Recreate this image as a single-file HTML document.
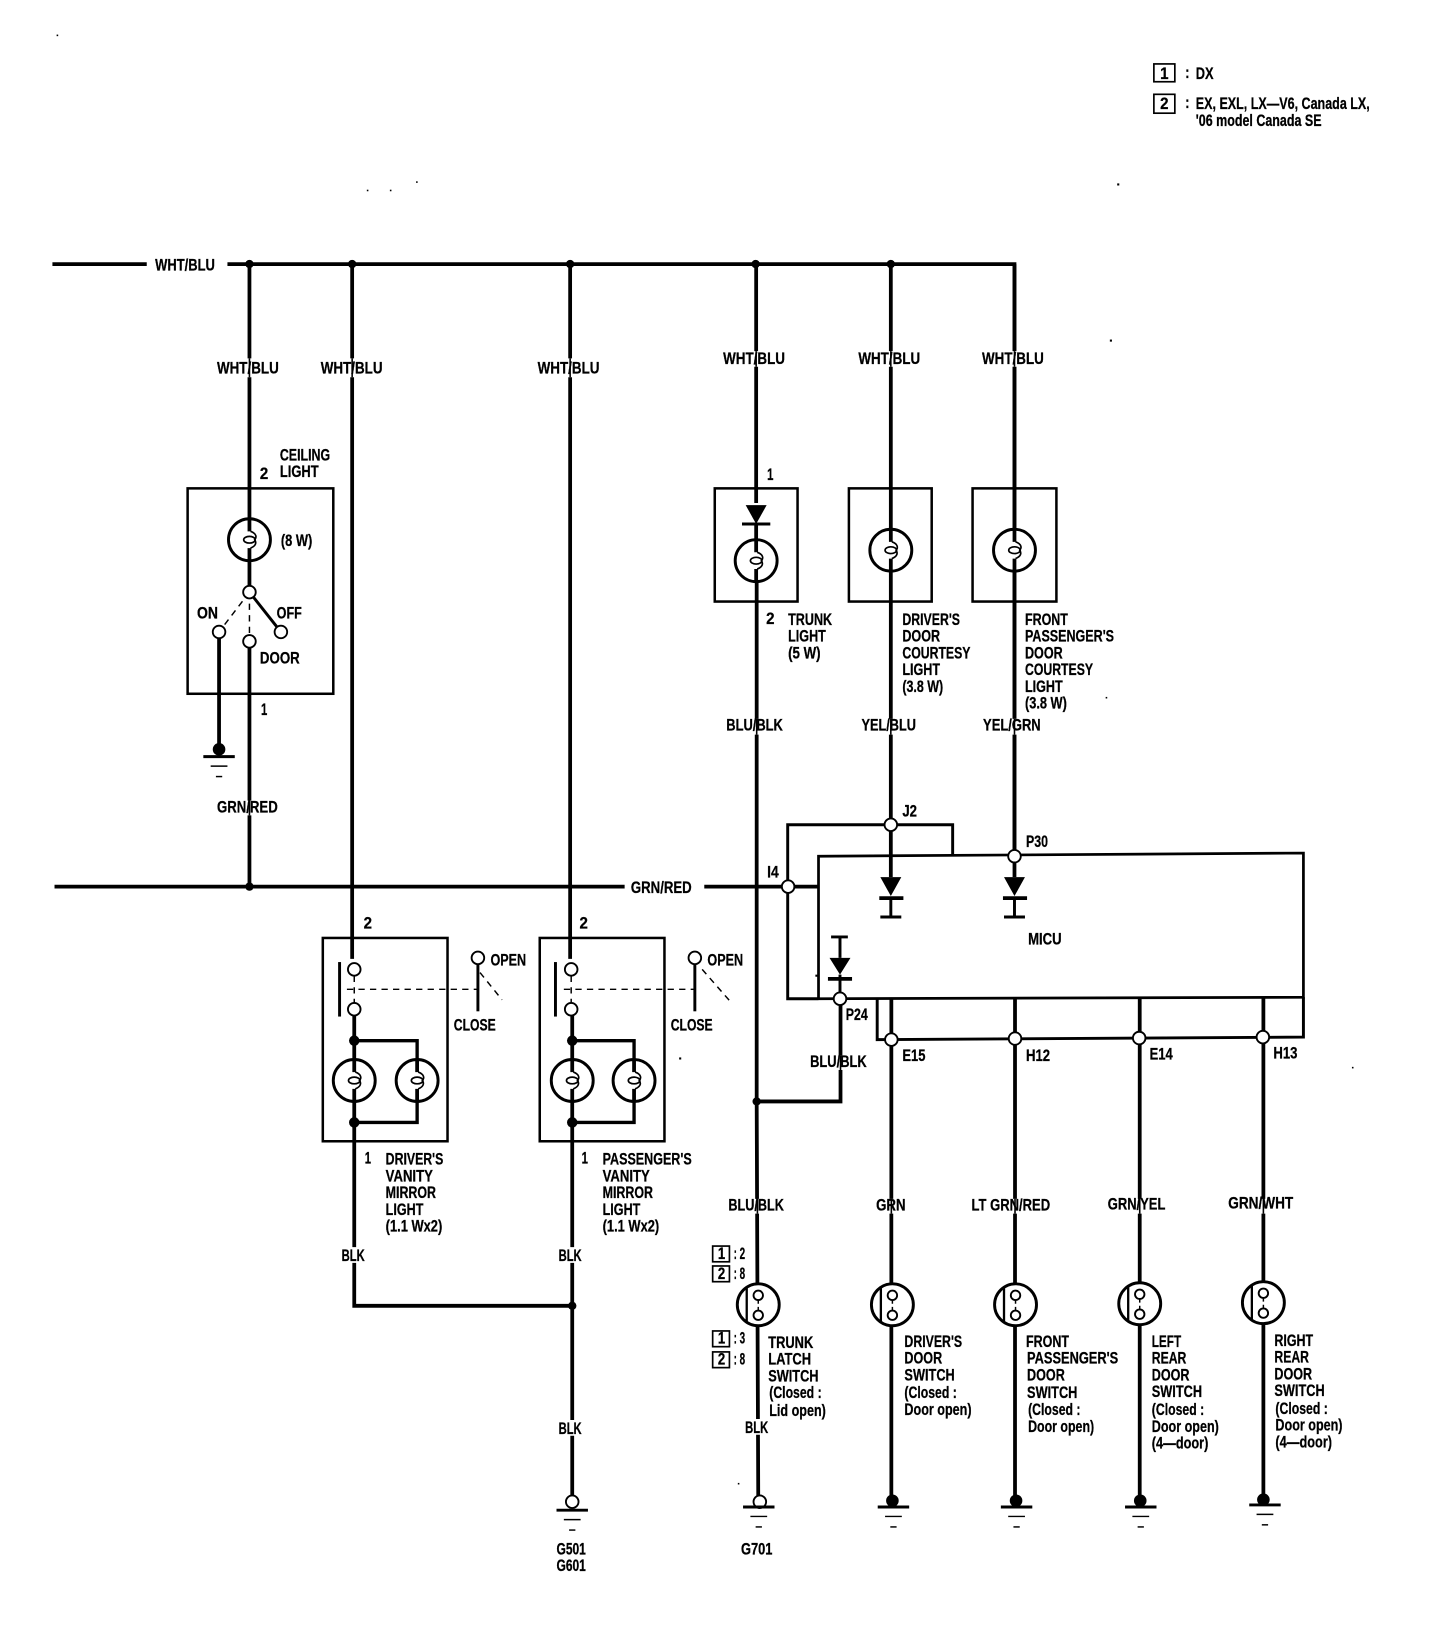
<!DOCTYPE html>
<html>
<head>
<meta charset="utf-8">
<style>
html,body{margin:0;padding:0;background:#fff}
svg{display:block}
text{font-family:"Liberation Sans",sans-serif;font-weight:bold;font-size:15.5px;fill:#000;stroke:#000;stroke-width:.25}
.w{fill:none;stroke:#000;stroke-width:3.6}
.m{fill:none;stroke:#000;stroke-width:2.8}
.t{fill:none;stroke:#000;stroke-width:2.4}
.d{fill:none;stroke:#000;stroke-width:1.4;stroke-dasharray:6 5}
.o{fill:#fff;stroke:#000;stroke-width:1.8}
.x{fill:none;stroke:#fff;stroke-width:6}
.n{fill:none;stroke:#000;stroke-width:1.5}
</style>
</head>
<body>
<svg xmlns="http://www.w3.org/2000/svg" width="1440" height="1642" viewBox="0 0 1374 1566.8">
<defs>
<g id="b"><circle r="20" fill="#fff" stroke="#000" stroke-width="2.8"/><path d="M0-20V-8M0 8V20" stroke="#000" stroke-width="3.6"/><ellipse rx="5.5" ry="3.2" fill="none" stroke="#000" stroke-width="1.6"/><path d="M1-8C7-6 7-2 5 0 7 3 6 6 1 8" fill="none" stroke="#000" stroke-width="1.6"/></g>
<g id="s"><circle r="20" fill="#fff" stroke="#000" stroke-width="2.8"/><path d="M-11-17V16" stroke="#000" stroke-width="2.2"/><path d="M0-5V5" stroke="#000" stroke-width="1.4" stroke-dasharray="4 3"/><circle cy="-9" r="4.5" class="o"/><circle cy="10" r="4.5" class="o"/></g>
<g id="g"><path d="M-15 5H15" stroke="#000" stroke-width="2.8"/><path d="M-8 14H8" stroke="#000" stroke-width="1.4"/><path d="M-3 24H3" stroke="#000" stroke-width="1.4"/></g>
</defs>

<!-- buses -->
<path class="w" d="M50 252H140M217 252H968V816M52 846H596M672 846H781"/>
<path class="w" d="M238 252V510M238 525V559M238 618V846M336 252V915M544 252V915"/>
<path class="w" d="M721.5 252V480M721.5 500V515M722 555V1051L723.5 1430M850 252V505M850 545V837M968 252V505M968 545V837"/>
<g fill="#000"><circle cx="238" cy="252" r="4"/><circle cx="336" cy="252" r="4"/><circle cx="544" cy="252" r="4"/><circle cx="721" cy="252" r="4"/><circle cx="850" cy="252" r="4"/><circle cx="238" cy="846" r="4"/><circle cx="722" cy="1051" r="4"/><circle cx="546" cy="1246" r="4"/></g>

<!-- ceiling light -->
<rect class="t" x="179" y="466" width="139" height="196"/>
<use href="#b" x="238" y="515"/>
<path class="m" d="M238 565L268 603"/>
<path class="d" d="M238 565L209 603M238 565V612"/>
<path class="w" d="M209 609V715"/>
<circle class="o" cx="238" cy="565" r="6"/><circle class="o" cx="209" cy="603" r="6"/><circle class="o" cx="268" cy="603" r="6"/><circle class="o" cx="238" cy="612" r="6"/>
<circle cx="209" cy="715" r="6"/>
<use href="#g" x="209" y="717"/>

<!-- vanity 1 -->
<rect class="t" x="308" y="895" width="119" height="194"/>
<path class="m" d="M324 918V970"/>
<path class="d" d="M331 944H455M338 931V957"/>
<path class="m" d="M456 920V965"/>
<path class="d" d="M458 928L479 954"/>
<circle class="o" cx="338" cy="925" r="6"/><circle class="o" cx="338" cy="963" r="6"/><circle class="o" cx="456" cy="914" r="6"/>
<path class="w" d="M338 969V1011M338 1051V1246H546"/>
<path class="w" style="stroke-width:3.2" d="M338 993H398V1011M398 1051V1071H338"/>
<use href="#b" x="338" y="1031"/><use href="#b" x="398" y="1031"/>
<circle cx="338" cy="993" r="5"/><circle cx="338" cy="1071" r="5"/>

<!-- vanity 2 -->
<rect class="t" x="515" y="895" width="119" height="194"/>
<path class="m" d="M530 918V970"/>
<path class="d" d="M538 944H663M545 931V957"/>
<path class="m" d="M663 920V965"/>
<path class="d" d="M670 925L698 957"/>
<circle class="o" cx="545" cy="925" r="6"/><circle class="o" cx="545" cy="963" r="6"/><circle class="o" cx="663" cy="914" r="6"/>
<path class="w" d="M546 969V1011M546 1051V1428"/>
<path class="w" style="stroke-width:3.2" d="M546 993H605V1011M605 1051V1071H546"/>
<use href="#b" x="546" y="1031"/><use href="#b" x="605" y="1031"/>
<circle cx="546" cy="993" r="5"/><circle cx="546" cy="1071" r="5"/>
<circle class="o" cx="546" cy="1433" r="6"/>
<use href="#g" x="546" y="1436"/>

<!-- courtesy / trunk -->
<rect class="t" x="682" y="466" width="79" height="108"/>
<rect class="t" x="810" y="466" width="79" height="108"/>
<rect class="t" x="928" y="466" width="80" height="108"/>
<path d="M711.5 482H731.5L721.5 500Z"/><path class="m" d="M708 500H735"/>
<use href="#b" x="721.5" y="535"/>
<use href="#b" x="850" y="525"/>
<use href="#b" x="968" y="525"/>

<!-- MICU -->
<path class="t" style="stroke-width:2.6" d="M781 953V817L1243.7 814V951.6L781 953"/>
<path class="m" d="M909 816V787H751.6V953H781M837 953V992L1243.7 989.6V951.6"/>
<circle class="o" cx="850" cy="787" r="6"/><circle class="o" cx="752" cy="846" r="6"/><circle class="o" cx="968" cy="817" r="6"/>
<path d="M840 837H860L850 855ZM958 837H978L968 855ZM791.5 914H811.5L801.5 930Z"/>
<path class="m" style="stroke-width:3.6" d="M839 857H862M957 857H980M790 934H813"/>
<path class="m" d="M850 857V875M840 875H860M968 857V875M958 875H978M801.5 894V914M793 894H809"/>
<path class="m" d="M801.5 930V953"/>
<path class="w" d="M802 958V1051H722"/>
<circle class="o" cx="801.5" cy="953" r="6"/>
<path class="w" d="M850.5 953V1430M968.5 953V1430M1087.5 953V1430M1205.5 951V1430"/>
<circle class="o" cx="850.5" cy="992" r="6"/><circle class="o" cx="968.5" cy="991" r="6"/><circle class="o" cx="1087" cy="990.5" r="6"/><circle class="o" cx="1205" cy="989.6" r="6"/>

<!-- label gaps on wires -->
<path class="x" d="M238 342V360M336 342V360M544 342V360M721.5 335V350M850 335V350M968 335V350M722 686V701M850 686V701M968 686V701M238 764V778M802 1007V1021M722.7 1144V1158M850.5 1144V1158M968.5 1144V1158M1087.5 1144V1158M1205.5 1144V1158M338 1190V1205M546 1190V1205M546 1355V1370M723 1354V1369"/>
<path class="n" d="M238 342V360M336 342V360M544 342V360M721.5 335V350M850 335V350M968 335V350M722 686V701M850 686V701M968 686V701M238 764V778M802 1007V1021M722.7 1144V1158M850.5 1144V1158M968.5 1144V1158M1087.5 1144V1158M1205.5 1144V1158"/>

<!-- switches -->
<use href="#s" x="723.5" y="1245"/><use href="#s" x="851.5" y="1245"/><use href="#s" x="969" y="1245"/><use href="#s" x="1087.5" y="1244"/><use href="#s" x="1205.5" y="1243"/>
<circle class="o" cx="725" cy="1433" r="6"/>
<use href="#g" x="724" y="1433"/>
<g fill="#000"><circle cx="851.5" cy="1432" r="6"/><circle cx="969.5" cy="1432" r="6"/><circle cx="1088" cy="1432" r="6"/><circle cx="1205.5" cy="1431" r="6"/></g>
<use href="#g" x="852.5" y="1433"/><use href="#g" x="970" y="1433"/><use href="#g" x="1088.5" y="1433"/><use href="#g" x="1207" y="1431"/>

<!-- key boxes -->
<g fill="none" stroke="#000" stroke-width="1.6">
<rect x="1101" y="61" width="20" height="17"/><rect x="1101" y="90" width="20" height="18"/>
<rect x="680" y="1189" width="16" height="15"/><rect x="680" y="1208" width="16" height="15"/>
<rect x="680" y="1270" width="16" height="15"/><rect x="680" y="1290" width="16" height="15"/>
</g>

<!-- specks -->
<g fill="#000">
<rect x="54" y="33" width="1.5" height="1.5"/><rect x="350" y="181" width="1.5" height="1.5"/><rect x="372" y="181" width="1.5" height="1.5"/><rect x="397" y="173" width="1.5" height="1.5"/>
<rect x="1066" y="175" width="2" height="2"/><rect x="1059" y="324" width="2" height="2"/><rect x="1290" y="1018" width="1.5" height="1.5"/><rect x="1055" y="665" width="1.5" height="1.5"/>
<rect x="648" y="1009" width="2" height="2"/><rect x="778" y="930" width="2" height="2"/><rect x="704" y="1415" width="1.5" height="1.5"/>
</g>

<!-- labels -->
<g transform="translate(0,-0.8)">
<text x="1107" y="76" textLength="8" lengthAdjust="spacingAndGlyphs">1</text>
<text x="1107" y="105" textLength="8" lengthAdjust="spacingAndGlyphs">2</text>
<text x="1131" y="75" textLength="4" lengthAdjust="spacingAndGlyphs">:</text>
<text x="1131" y="104" textLength="4" lengthAdjust="spacingAndGlyphs">:</text>
<text x="1141" y="76" textLength="17" lengthAdjust="spacingAndGlyphs">DX</text>
<text x="1141" y="105" textLength="166" lengthAdjust="spacingAndGlyphs">EX, EXL, LX—V6, Canada LX,</text>
<text x="1141" y="121" textLength="120" lengthAdjust="spacingAndGlyphs">'06 model Canada SE</text>

<text x="148" y="259" textLength="57" lengthAdjust="spacingAndGlyphs">WHT/BLU</text>
<text x="207" y="357" textLength="59" lengthAdjust="spacingAndGlyphs">WHT/BLU</text>
<text x="306" y="357" textLength="59" lengthAdjust="spacingAndGlyphs">WHT/BLU</text>
<text x="513" y="357" textLength="59" lengthAdjust="spacingAndGlyphs">WHT/BLU</text>
<text x="690" y="348" textLength="59" lengthAdjust="spacingAndGlyphs">WHT/BLU</text>
<text x="819" y="348" textLength="59" lengthAdjust="spacingAndGlyphs">WHT/BLU</text>
<text x="937" y="348" textLength="59" lengthAdjust="spacingAndGlyphs">WHT/BLU</text>

<text x="267" y="440" textLength="48" lengthAdjust="spacingAndGlyphs">CEILING</text>
<text x="267" y="456" textLength="37" lengthAdjust="spacingAndGlyphs">LIGHT</text>
<text x="248" y="458" textLength="8" lengthAdjust="spacingAndGlyphs">2</text>
<text x="268" y="522" textLength="30" lengthAdjust="spacingAndGlyphs">(8 W)</text>
<text x="188" y="591" textLength="20" lengthAdjust="spacingAndGlyphs">ON</text>
<text x="264" y="591" textLength="24" lengthAdjust="spacingAndGlyphs">OFF</text>
<text x="248" y="634" textLength="38" lengthAdjust="spacingAndGlyphs">DOOR</text>
<text x="249" y="683" textLength="6" lengthAdjust="spacingAndGlyphs">1</text>
<text x="207" y="776" textLength="58" lengthAdjust="spacingAndGlyphs">GRN/RED</text>
<text x="602" y="853" textLength="58" lengthAdjust="spacingAndGlyphs">GRN/RED</text>

<text x="732" y="459" textLength="6" lengthAdjust="spacingAndGlyphs">1</text>
<text x="731" y="596" textLength="8" lengthAdjust="spacingAndGlyphs">2</text>
<text x="752" y="597" textLength="42" lengthAdjust="spacingAndGlyphs">TRUNK</text>
<text x="752" y="613" textLength="36" lengthAdjust="spacingAndGlyphs">LIGHT</text>
<text x="752" y="629" textLength="31" lengthAdjust="spacingAndGlyphs">(5 W)</text>
<text x="861" y="597" textLength="55" lengthAdjust="spacingAndGlyphs">DRIVER'S</text>
<text x="861" y="613" textLength="36" lengthAdjust="spacingAndGlyphs">DOOR</text>
<text x="861" y="629" textLength="65" lengthAdjust="spacingAndGlyphs">COURTESY</text>
<text x="861" y="645" textLength="36" lengthAdjust="spacingAndGlyphs">LIGHT</text>
<text x="861" y="661" textLength="39" lengthAdjust="spacingAndGlyphs">(3.8 W)</text>
<text x="978" y="597" textLength="41" lengthAdjust="spacingAndGlyphs">FRONT</text>
<text x="978" y="613" textLength="85" lengthAdjust="spacingAndGlyphs">PASSENGER'S</text>
<text x="978" y="629" textLength="36" lengthAdjust="spacingAndGlyphs">DOOR</text>
<text x="978" y="645" textLength="65" lengthAdjust="spacingAndGlyphs">COURTESY</text>
<text x="978" y="661" textLength="36" lengthAdjust="spacingAndGlyphs">LIGHT</text>
<text x="978" y="677" textLength="40" lengthAdjust="spacingAndGlyphs">(3.8 W)</text>
<text x="693" y="698" textLength="54" lengthAdjust="spacingAndGlyphs">BLU/BLK</text>
<text x="822" y="698" textLength="52" lengthAdjust="spacingAndGlyphs">YEL/BLU</text>
<text x="938" y="698" textLength="55" lengthAdjust="spacingAndGlyphs">YEL/GRN</text>

<text x="861" y="780" textLength="14" lengthAdjust="spacingAndGlyphs">J2</text>
<text x="979" y="809" textLength="21" lengthAdjust="spacingAndGlyphs">P30</text>
<text x="732" y="838" textLength="11" lengthAdjust="spacingAndGlyphs">I4</text>
<text x="981" y="902" textLength="32" lengthAdjust="spacingAndGlyphs">MICU</text>
<text x="807" y="974" textLength="21" lengthAdjust="spacingAndGlyphs">P24</text>
<text x="861" y="1013" textLength="22" lengthAdjust="spacingAndGlyphs">E15</text>
<text x="979" y="1013" textLength="23" lengthAdjust="spacingAndGlyphs">H12</text>
<text x="1097" y="1012" textLength="22" lengthAdjust="spacingAndGlyphs">E14</text>
<text x="1215" y="1011" textLength="23" lengthAdjust="spacingAndGlyphs">H13</text>
<text x="773" y="1019" textLength="54" lengthAdjust="spacingAndGlyphs">BLU/BLK</text>

<text x="347" y="887" textLength="8" lengthAdjust="spacingAndGlyphs">2</text>
<text x="553" y="887" textLength="8" lengthAdjust="spacingAndGlyphs">2</text>
<text x="468" y="922" textLength="34" lengthAdjust="spacingAndGlyphs">OPEN</text>
<text x="675" y="922" textLength="34" lengthAdjust="spacingAndGlyphs">OPEN</text>
<text x="433" y="984" textLength="40" lengthAdjust="spacingAndGlyphs">CLOSE</text>
<text x="640" y="984" textLength="40" lengthAdjust="spacingAndGlyphs">CLOSE</text>
<text x="348" y="1111" textLength="6" lengthAdjust="spacingAndGlyphs">1</text>
<text x="555" y="1111" textLength="6" lengthAdjust="spacingAndGlyphs">1</text>

<text x="368" y="1112" textLength="55" lengthAdjust="spacingAndGlyphs">DRIVER'S</text>
<text x="368" y="1128" textLength="45" lengthAdjust="spacingAndGlyphs">VANITY</text>
<text x="368" y="1144" textLength="48" lengthAdjust="spacingAndGlyphs">MIRROR</text>
<text x="368" y="1160" textLength="36" lengthAdjust="spacingAndGlyphs">LIGHT</text>
<text x="368" y="1176" textLength="54" lengthAdjust="spacingAndGlyphs">(1.1 Wx2)</text>
<text x="575" y="1112" textLength="85" lengthAdjust="spacingAndGlyphs">PASSENGER'S</text>
<text x="575" y="1128" textLength="45" lengthAdjust="spacingAndGlyphs">VANITY</text>
<text x="575" y="1144" textLength="48" lengthAdjust="spacingAndGlyphs">MIRROR</text>
<text x="575" y="1160" textLength="36" lengthAdjust="spacingAndGlyphs">LIGHT</text>
<text x="575" y="1176" textLength="54" lengthAdjust="spacingAndGlyphs">(1.1 Wx2)</text>

<text x="695" y="1156" textLength="53" lengthAdjust="spacingAndGlyphs">BLU/BLK</text>
<text x="836" y="1156" textLength="28" lengthAdjust="spacingAndGlyphs">GRN</text>
<text x="927" y="1156" textLength="75" lengthAdjust="spacingAndGlyphs">LT GRN/RED</text>
<text x="1057" y="1155" textLength="55" lengthAdjust="spacingAndGlyphs">GRN/YEL</text>
<text x="1172" y="1154" textLength="62" lengthAdjust="spacingAndGlyphs">GRN/WHT</text>
<text x="326" y="1204" textLength="22" lengthAdjust="spacingAndGlyphs">BLK</text>
<text x="533" y="1204" textLength="22" lengthAdjust="spacingAndGlyphs">BLK</text>
<text x="533" y="1369" textLength="22" lengthAdjust="spacingAndGlyphs">BLK</text>
<text x="711" y="1368" textLength="22" lengthAdjust="spacingAndGlyphs">BLK</text>

<text x="685" y="1202" textLength="7" lengthAdjust="spacingAndGlyphs">1</text>
<text x="685" y="1221" textLength="7" lengthAdjust="spacingAndGlyphs">2</text>
<text x="685" y="1283" textLength="7" lengthAdjust="spacingAndGlyphs">1</text>
<text x="685" y="1303" textLength="7" lengthAdjust="spacingAndGlyphs">2</text>
<text x="700" y="1202" textLength="11" lengthAdjust="spacingAndGlyphs">: 2</text>
<text x="700" y="1221" textLength="11" lengthAdjust="spacingAndGlyphs">: 8</text>
<text x="700" y="1283" textLength="11" lengthAdjust="spacingAndGlyphs">: 3</text>
<text x="700" y="1303" textLength="11" lengthAdjust="spacingAndGlyphs">: 8</text>

<text x="733" y="1287" textLength="43" lengthAdjust="spacingAndGlyphs">TRUNK</text>
<text x="733" y="1303" textLength="41" lengthAdjust="spacingAndGlyphs">LATCH</text>
<text x="733" y="1319" textLength="48" lengthAdjust="spacingAndGlyphs">SWITCH</text>
<text x="734" y="1335" textLength="50" lengthAdjust="spacingAndGlyphs">(Closed :</text>
<text x="734" y="1352" textLength="54" lengthAdjust="spacingAndGlyphs">Lid open)</text>

<text x="863" y="1286" textLength="55" lengthAdjust="spacingAndGlyphs">DRIVER'S</text>
<text x="863" y="1302" textLength="36" lengthAdjust="spacingAndGlyphs">DOOR</text>
<text x="863" y="1318" textLength="48" lengthAdjust="spacingAndGlyphs">SWITCH</text>
<text x="863" y="1335" textLength="50" lengthAdjust="spacingAndGlyphs">(Closed :</text>
<text x="863" y="1351" textLength="64" lengthAdjust="spacingAndGlyphs">Door open)</text>

<text x="979" y="1286" textLength="41" lengthAdjust="spacingAndGlyphs">FRONT</text>
<text x="980" y="1302" textLength="87" lengthAdjust="spacingAndGlyphs">PASSENGER'S</text>
<text x="980" y="1318" textLength="36" lengthAdjust="spacingAndGlyphs">DOOR</text>
<text x="980" y="1335" textLength="48" lengthAdjust="spacingAndGlyphs">SWITCH</text>
<text x="981" y="1351" textLength="50" lengthAdjust="spacingAndGlyphs">(Closed :</text>
<text x="981" y="1367" textLength="63" lengthAdjust="spacingAndGlyphs">Door open)</text>

<text x="1099" y="1286" textLength="28" lengthAdjust="spacingAndGlyphs">LEFT</text>
<text x="1099" y="1302" textLength="33" lengthAdjust="spacingAndGlyphs">REAR</text>
<text x="1099" y="1318" textLength="36" lengthAdjust="spacingAndGlyphs">DOOR</text>
<text x="1099" y="1334" textLength="48" lengthAdjust="spacingAndGlyphs">SWITCH</text>
<text x="1099" y="1351" textLength="50" lengthAdjust="spacingAndGlyphs">(Closed :</text>
<text x="1099" y="1367" textLength="64" lengthAdjust="spacingAndGlyphs">Door open)</text>
<text x="1099" y="1383" textLength="54" lengthAdjust="spacingAndGlyphs">(4—door)</text>

<text x="1216" y="1285" textLength="37" lengthAdjust="spacingAndGlyphs">RIGHT</text>
<text x="1216" y="1301" textLength="33" lengthAdjust="spacingAndGlyphs">REAR</text>
<text x="1216" y="1317" textLength="36" lengthAdjust="spacingAndGlyphs">DOOR</text>
<text x="1216" y="1333" textLength="48" lengthAdjust="spacingAndGlyphs">SWITCH</text>
<text x="1217" y="1350" textLength="50" lengthAdjust="spacingAndGlyphs">(Closed :</text>
<text x="1217" y="1366" textLength="64" lengthAdjust="spacingAndGlyphs">Door open)</text>
<text x="1217" y="1382" textLength="54" lengthAdjust="spacingAndGlyphs">(4—door)</text>

<text x="707" y="1484" textLength="30" lengthAdjust="spacingAndGlyphs">G701</text>
<text x="531" y="1484" textLength="28" lengthAdjust="spacingAndGlyphs">G501</text>
<text x="531" y="1500" textLength="28" lengthAdjust="spacingAndGlyphs">G601</text>
</g>
</svg>
</body>
</html>
